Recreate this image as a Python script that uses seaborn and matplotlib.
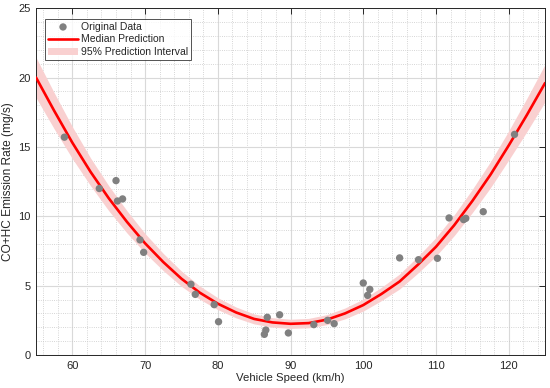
import numpy as np
import pandas as pd
import matplotlib
matplotlib.use("Agg")
import matplotlib.pyplot as plt
from matplotlib.ticker import MultipleLocator
import seaborn as sns

# observed points (km/h, mg/s)
speed_obs = [58.9, 63.7, 66.0, 66.2, 66.9, 69.3, 69.8, 76.3, 76.9, 79.5, 80.1,
             86.8, 86.6, 86.4, 88.5, 89.7, 93.2, 95.1, 96.0, 100.0, 100.9, 100.6,
             105.0, 107.6, 110.2, 111.8, 113.8, 114.1, 116.5, 120.8]
emis_obs = [15.7, 12.0, 12.57, 11.1, 11.25, 8.3, 7.4, 5.1, 4.37, 3.63, 2.4,
            2.72, 1.8, 1.49, 2.9, 1.59, 2.19, 2.5, 2.26, 5.19, 4.73, 4.3,
            7.0, 6.87, 6.97, 9.88, 9.76, 9.85, 10.33, 15.9]

# median prediction and half width of the 95% interval, read every 2.5 km/h
speed_pred = [55, 57.5, 60, 62.5, 65, 67.5, 70, 72.5, 75, 77.5, 80, 82.5, 85, 87.5,
              90, 92.5, 95, 97.5, 100, 102.5, 105, 107.5, 110, 112.5, 115, 117.5,
              120, 122.5, 125]
median_pred = [20.0, 17.6, 15.3, 13.2, 11.3, 9.6, 8.05, 6.7, 5.5, 4.5, 3.7, 3.07, 2.6, 2.35,
               2.25, 2.3, 2.55, 3.0, 3.6, 4.4, 5.3, 6.5, 7.8, 9.35, 11.1, 13.0,
               15.1, 17.3, 19.6]
pi_half = [1.45, 1.3, 1.15, 1.0, 0.9, 0.8, 0.7, 0.62, 0.55, 0.48, 0.43, 0.39, 0.36, 0.34,
           0.33, 0.34, 0.36, 0.39, 0.43, 0.48, 0.54, 0.6, 0.67, 0.75, 0.84, 0.94,
           1.05, 1.2, 1.35]

obs = pd.DataFrame({"speed": speed_obs, "emission": emis_obs})
pred = pd.DataFrame({"speed": speed_pred, "median": median_pred, "half": pi_half})
pred["lower"] = pred["median"] - pred["half"]
pred["upper"] = pred["median"] + pred["half"]

sns.set_style("white")
plt.rcParams["font.family"] = ["Liberation Sans", "DejaVu Sans"]

fig = plt.figure(figsize=(5.5, 3.88), dpi=100)
ax = fig.add_axes([0.0655, 0.085, 0.9255, 0.894])

band = ax.fill_between(pred["speed"], pred["lower"], pred["upper"],
                       color="#f9d0d0", linewidth=0, zorder=2,
                       label="95% Prediction Interval")
sns.lineplot(data=pred, x="speed", y="median", color="red", linewidth=1.9,
             ax=ax, zorder=3, label="Median Prediction")
sns.scatterplot(data=obs, x="speed", y="emission", color="#808080", s=28,
                edgecolor="none", ax=ax, zorder=4, label="Original Data")

ax.set_xlim(55, 125)
ax.set_ylim(0, 25)
ax.xaxis.set_major_locator(MultipleLocator(10))
ax.xaxis.set_minor_locator(MultipleLocator(2))
ax.yaxis.set_major_locator(MultipleLocator(5))
ax.yaxis.set_minor_locator(MultipleLocator(1))
ax.grid(which="major", color="#d9d9d9", linewidth=0.8, linestyle="-", zorder=0)
ax.grid(which="minor", color="#c8c8c8", linewidth=0.6, linestyle=":", zorder=0)
ax.set_axisbelow(True)

ax.tick_params(which="major", direction="in", length=4, width=0.7,
               top=True, right=True, labelsize=8, colors="#262626", pad=4)
ax.tick_params(which="minor", length=0)
for sp in ax.spines.values():
    sp.set_visible(True)
    sp.set_color("#262626")
    sp.set_linewidth(0.7)

ax.set_xlabel("Vehicle Speed (km/h)", fontsize=8.2, color="#262626", labelpad=2)
ax.set_ylabel("CO+HC Emission Rate (mg/s)", fontsize=8.6, color="#262626", labelpad=3)

handles, labels = ax.get_legend_handles_labels()
order = [labels.index(l) for l in ["Original Data", "Median Prediction", "95% Prediction Interval"]]
leg = ax.legend([handles[i] for i in order], [labels[i] for i in order],
                loc="upper left", bbox_to_anchor=(0.008, 0.985), fontsize=7.5,
                frameon=True, fancybox=False, edgecolor="#262626",
                handlelength=2.8, handletextpad=0.3, borderpad=0.3, labelspacing=0.25)
leg.get_frame().set_linewidth(0.7)

fig.savefig("out.png", dpi=100)
